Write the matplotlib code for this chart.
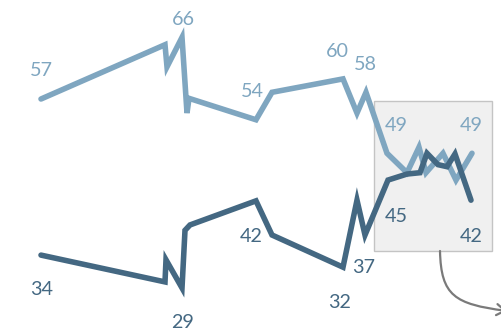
import matplotlib
matplotlib.use("Agg")
import matplotlib.pyplot as plt
from matplotlib.patches import Rectangle, FancyArrowPatch
from matplotlib.path import Path

# ---- data ----
x_light = [0, 124, 126, 141, 146, 148, 215, 231, 302, 316, 325, 346, 366, 378, 385, 402, 415, 431]
v_light = [57.0, 65.1, 61.8, 66.2, 54.9, 57.1, 53.9, 58.0, 60.0, 54.9, 58.0, 48.9, 46.0, 49.8, 46.0, 48.9, 44.9, 48.9]

x_dark = [0, 124, 125, 141, 144, 149, 215, 231, 302, 316, 324, 347, 366, 379, 386, 397, 406, 414, 430]
v_dark = [33.7, 29.7, 33.0, 28.8, 37.4, 38.2, 41.8, 36.7, 31.9, 41.9, 36.7, 44.9, 45.8, 46.0, 48.9, 47.2, 46.9, 48.8, 41.9]

light_labeled = [0, 3, 6, 8, 10, 11, 17]
dark_labeled = [0, 3, 6, 8, 10, 11, 18]

zoom_x = (333, 451)
zoom_y = (34.3, 56.7)

LIGHT = "#7fa6c0"
DARK = "#446882"

W, H, DPI = 502, 331, 100
fig = plt.figure(figsize=(W / DPI, H / DPI), dpi=DPI)
ax = fig.add_axes([0, 0, 1, 1])
ax.set_xlim(-41, 461)
ax.set_ylim(57 - 232 / 6.7, 57 + 99 / 6.7)
ax.axis("off")

# zoom box
ax.add_patch(Rectangle((zoom_x[0], zoom_y[0]), zoom_x[1] - zoom_x[0], zoom_y[1] - zoom_y[0],
                       facecolor="#f0f0f0", edgecolor="#c4c4c4", linewidth=1.0, zorder=1))

ax.plot(x_light, v_light, color=LIGHT, lw=4.0, solid_joinstyle="miter",
        solid_capstyle="round", zorder=3)
ax.plot(x_dark, v_dark, color=DARK, lw=4.0, solid_joinstyle="miter",
        solid_capstyle="round", zorder=3)

font = dict(family=["Lato", "DejaVu Sans"], fontsize=14.2)

light_off = {0: (0, 22.5), 3: (1, 12), 6: (-4, 22.5), 8: (-6, 22), 10: (-1, 22), 11: (9, 22.5), 17: (-1, 22.5)}
dark_off = {0: (1, -40), 3: (1, -40), 6: (-5, -41), 8: (-3, -41), 10: (-1, -38), 11: (8, -42), 18: (0, -42)}

for i in light_labeled:
    dx, dy = light_off[i]
    ax.annotate(f"{round(v_light[i])}", (x_light[i], v_light[i]), xytext=(dx, dy),
                textcoords="offset pixels", ha="center", va="baseline", color=LIGHT,
                zorder=4, **font)
for i in dark_labeled:
    dx, dy = dark_off[i]
    ax.annotate(f"{round(v_dark[i])}", (x_dark[i], v_dark[i]), xytext=(dx, dy),
                textcoords="offset pixels", ha="center", va="baseline", color=DARK,
                zorder=4, **font)

# connector arrow (display pixel coords, y up)
verts = [(440, H - 251), (441, H - 296), (455, H - 304), (507, H - 311)]
codes = [Path.MOVETO, Path.CURVE4, Path.CURVE4, Path.CURVE4]
arrow = FancyArrowPatch(path=Path(verts, codes), arrowstyle="->,head_length=6,head_width=4",
                        color="#7a7a7a", lw=1.6, transform=None, mutation_scale=1)
fig.add_artist(arrow)

fig.savefig("out.png", dpi=DPI)
